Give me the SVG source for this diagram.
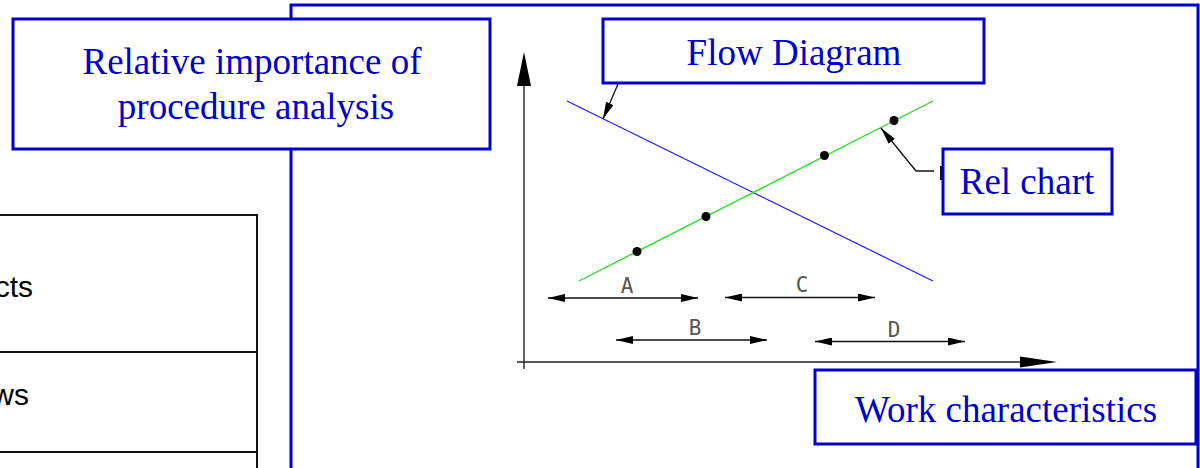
<svg xmlns="http://www.w3.org/2000/svg" width="1200" height="468" viewBox="0 0 1200 468">
  <style>
    .box { fill: #fff; stroke: #0000cc; stroke-width: 3; }
    .btxt { font-family: "Liberation Serif", "Times New Roman", serif; font-size: 37px; fill: #0000cc; text-anchor: middle; }
    .frame { fill: none; stroke: #0000cc; stroke-width: 3; }
    .tbl { fill: none; stroke: #111; stroke-width: 2; }
    .ttxt { font-family: "Liberation Sans", Arial, sans-serif; font-size: 30px; fill: #000; text-anchor: end; }
    .axis { stroke: #222; stroke-width: 1.4; fill: none; }
    .dim { stroke: #111; stroke-width: 1.5; fill: none; marker-start: url(#ah); marker-end: url(#ah); }
    .dlbl { font-family: "DejaVu Sans Mono", "Liberation Mono", monospace; font-size: 21px; fill: #555; text-anchor: middle; }
    .dot { fill: #000; }
    .lead { stroke: #111; stroke-width: 1.3; fill: none; }
  </style>
  <defs>
    <marker id="ah" viewBox="0 0 17 8" refX="17" refY="4" markerWidth="17" markerHeight="8" markerUnits="userSpaceOnUse" orient="auto-start-reverse">
      <path d="M0,0 L17,4 L0,8 z" fill="#000"/>
    </marker>
  </defs>

  <g id="frame">
    <path class="frame" d="M291,472 V5 H1198 V472"/>
  </g>

  <g id="table">
    <path class="tbl" d="M-5,215 H257" stroke-width="1.6"/>
    <path class="tbl" d="M257,214 V472" stroke-width="2.6"/>
    <path class="tbl" d="M-5,352 H257"/>
    <path class="tbl" d="M-5,452 H257" stroke-width="2.4"/>
    <text class="ttxt" x="33" y="297">cts</text>
    <text class="ttxt" x="29" y="405">ws</text>
  </g>

  <g id="relative-importance">
    <rect class="box" x="13" y="19" width="477" height="130"/>
    <text class="btxt" x="252" y="74">Relative importance of</text>
    <text class="btxt" x="256" y="119">procedure analysis</text>
  </g>

  <g id="chart">
    <path class="axis" d="M524,84 V369"/>
    <polygon points="524,52 517,86 531,86" fill="#000"/>
    <path class="axis" d="M517,362 H1022"/>
    <polygon points="1057,362 1020,356.5 1020,367.5" fill="#000"/>
    <line x1="567" y1="101" x2="933" y2="281" stroke="#1a1aff" stroke-width="1.2"/>
    <line x1="579" y1="281" x2="933" y2="101" stroke="#22e022" stroke-width="1.4"/>
    <circle class="dot" cx="637" cy="251.5" r="4.5"/>
    <circle class="dot" cx="706" cy="216.5" r="4.5"/>
    <circle class="dot" cx="824.5" cy="155.5" r="4.5"/>
    <circle class="dot" cx="894" cy="120.5" r="4.5"/>
    <line class="dim" x1="548" y1="298" x2="698" y2="298"/>
    <text class="dlbl" x="627" y="293">A</text>
    <line class="dim" x1="725" y1="297.5" x2="875" y2="297.5"/>
    <text class="dlbl" x="802" y="292">C</text>
    <line class="dim" x1="616" y1="340" x2="767" y2="340"/>
    <text class="dlbl" x="695" y="335">B</text>
    <line class="dim" x1="815" y1="341.5" x2="965" y2="341.5"/>
    <text class="dlbl" x="894" y="337">D</text>
  </g>

  <g id="flow-diagram">
    <rect class="box" x="603" y="19" width="381" height="64"/>
    <text class="btxt" x="794" y="65">Flow Diagram</text>
  </g>

  <g id="rel-chart">
    <rect class="box" x="943" y="149" width="169" height="65"/>
    <text class="btxt" x="1027" y="194">Rel chart</text>
  </g>

  <g id="work-characteristics">
    <rect class="box" x="815" y="370" width="381" height="74"/>
    <text class="btxt" x="1006" y="422">Work characteristics</text>
  </g>

  <g id="connectors">
    <path class="lead" d="M618,84 L603,119" marker-end="url(#ah)"/>
    <path class="lead" d="M934,171 H916 L881,128" marker-end="url(#ah)"/>
    <path d="M941,166 V180" stroke="#111" stroke-width="2"/>
  </g>
</svg>
